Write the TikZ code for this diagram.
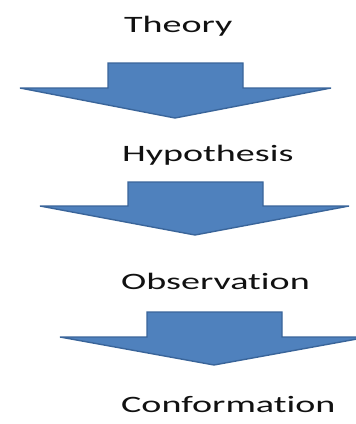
\documentclass[tikz,border=0pt]{standalone}
\usepackage{fontspec}
\setmainfont{Carlito}[Ligatures=NoCommon]
\definecolor{arrowfill}{HTML}{4F81BD}
\definecolor{arrowline}{HTML}{3A659A}
\definecolor{labeltext}{HTML}{111111}
\begin{document}
\begin{tikzpicture}[x=1pt,y=-1pt,
  steplabel/.style={anchor=base west,inner sep=0pt,text=labeltext,
    font=\fontsize{23.5}{28}\selectfont},
  blockarrow/.style={fill=arrowfill,draw=arrowline,line width=1.4pt,line join=miter}]
\useasboundingbox (0,0) rectangle (356,424);
\clip (0,0) rectangle (356,424);
\fill[white] (0,0) rectangle (356,424);
% labels
\node[steplabel] (theory) at (124,32) {\scalebox{1.62}[1]{Theory}};
\node[steplabel] (hyp) at (122,161) {\scalebox{1.62}[1]{Hypothesis}};
\node[steplabel] (obs) at (121,289) {\scalebox{1.62}[1]{Observation}};
\node[steplabel] (conf) at (121,412) {\scalebox{1.62}[1]{Conformation}};
% block arrows
\draw[blockarrow] (108,63) -- (243,63) -- (243,88) -- (331,88) -- (175,118)
  -- (20,88) -- (108,88) -- cycle;
\draw[blockarrow] (128,182) -- (263,182) -- (263,206) -- (349,206) -- (195,235)
  -- (40,206) -- (128,206) -- cycle;
\draw[blockarrow] (147,312) -- (282,312) -- (282,337) -- (368,337) -- (214,365)
  -- (60,337) -- (147,337) -- cycle;
\end{tikzpicture}
\end{document}
